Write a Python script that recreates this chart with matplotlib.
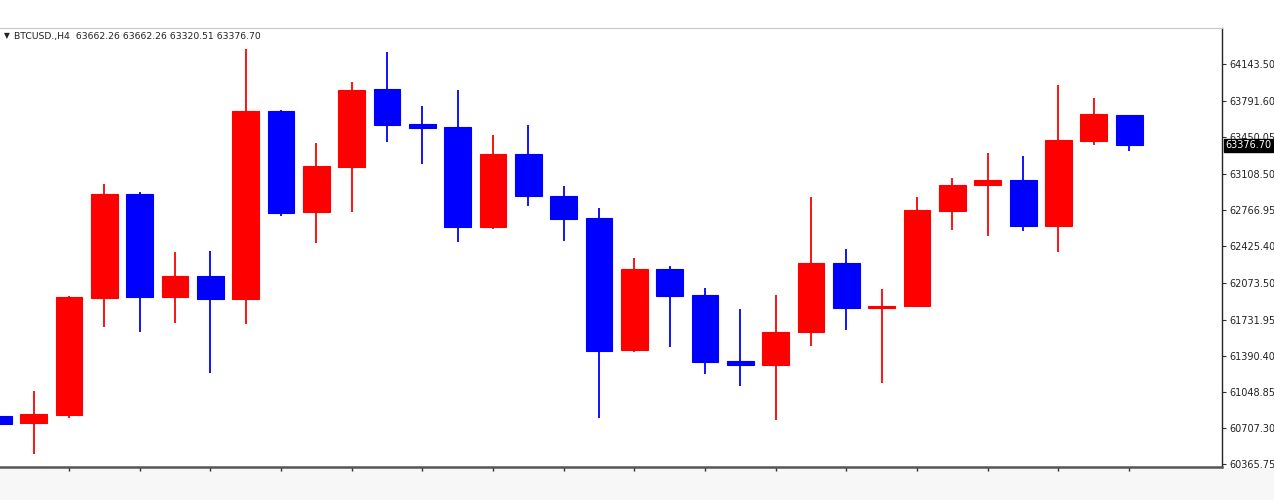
import numpy as np
import matplotlib.pyplot as plt
from matplotlib.transforms import blended_transform_factory
from matplotlib.patches import Rectangle

# OHLC values (H4 candles, BTCUSD)
opens = [60824.5, 60758.5, 60831.0, 61932.4, 62913.9, 61944.7, 62140.0, 61925.9,
         63702.8, 62744.0, 63171.5, 63910.4, 63577.3, 63546.0, 62602.4, 63294.0,
         62897.8, 62690.0, 61444.5, 62211.8, 61960.8, 61340.7, 61300.0, 61611.0,
         62265.5, 61838.0, 61859.8, 62756.3, 63000.0, 63046.0, 62611.8, 63414.0,
         63662.26]
highs = [60830.0, 61057.6, 61950.0, 63013.9, 62938.4, 62369.4, 62378.8, 64282.3,
         63705.0, 63398.0, 63973.7, 64254.0, 63744.3, 63898.2, 63470.7, 63565.0,
         62992.0, 62784.6, 62315.6, 62234.0, 62026.7, 61828.6, 61960.8, 62888.0,
         62400.0, 62017.0, 62891.0, 63070.6, 63306.5, 63275.3, 63942.5, 63819.8,
         63662.26]
lows = [60740.0, 60463.0, 60800.0, 61664.0, 61617.0, 61702.0, 61230.3, 61692.7,
        62709.0, 62454.0, 62746.8, 63404.6, 63202.6, 62466.5, 62584.0, 62806.0,
        62476.0, 60805.6, 61428.0, 61475.6, 61215.0, 61107.6, 60781.0, 61479.0,
        61630.0, 61130.0, 61855.0, 62577.0, 62523.0, 62567.0, 62372.0, 63382.0,
        63320.51]
closes = [60746.2, 60840.5, 61944.7, 62913.9, 61944.7, 62140.0, 61925.9, 63702.8,
          62734.6, 63181.0, 63901.0, 63567.9, 63539.6, 62602.4, 63294.0, 62895.0,
          62683.6, 61435.0, 62211.8, 61954.0, 61328.6, 61300.0, 61617.2, 62265.5,
          61843.7, 61862.5, 62765.7, 63004.5, 63050.6, 62611.8, 63423.4, 63671.7,
          63376.70]

price_ticks = [60365.75, 60707.30, 61048.85, 61390.40, 61731.95, 62073.50,
               62425.40, 62766.95, 63108.50, 63450.05, 63791.60, 64143.50]
header = "BTCUSD.,H4  63662.26 63662.26 63320.51 63376.70"
last_price = "63376.70"

fig = plt.figure(figsize=(12.74, 5), dpi=100)
fig.patch.set_facecolor("white")
# light grey strip under the chart
fig.add_artist(Rectangle((0, 0), 1, 0.064, transform=fig.transFigure,
                         facecolor="#f7f7f7", edgecolor="none", zorder=0))
ax = fig.add_axes([0.0, 0.066, 0.9592, 0.878])
ax.set_facecolor("white")

x = np.arange(len(opens))
o = np.array(opens)
c = np.array(closes)
colors = np.where(c >= o, "#ff0000", "#0000ff")

# wicks first, bodies on top
ax.vlines(x, lows, highs, colors=colors, linewidth=1.3, zorder=2)
ax.bar(x, c - o, bottom=o, width=0.76, color=colors, edgecolor=colors,
       linewidth=0.8, zorder=3)

ax.set_xlim(0.047, 34.63)
ax.set_ylim(60340.4, 64483.2)

ax.set_xticks(np.arange(2, len(opens), 2))
ax.set_xticklabels([])
ax.tick_params(axis="x", direction="out", length=3, width=1, color="#333333")

ax.yaxis.tick_right()
ax.set_yticks(price_ticks)
ax.set_yticklabels(["%.2f" % p for p in price_ticks])
ax.tick_params(axis="y", direction="out", length=3, width=0.8, color="#333333",
               labelsize=7, labelcolor="#222222", pad=2)

ax.spines["left"].set_visible(False)
ax.spines["top"].set_color("#c8c8c8")
ax.spines["top"].set_linewidth(0.8)
ax.spines["right"].set_color("#222222")
ax.spines["right"].set_linewidth(1.0)
ax.spines["bottom"].set_color("#555555")
ax.spines["bottom"].set_linewidth(1.8)

# current price box on the price scale (covers part of the 63450.05 label, as in MT4)
trans = blended_transform_factory(ax.transAxes, ax.transData)
ax.text(1.003, closes[-1], last_price, transform=trans, fontsize=7, color="white",
        va="center", ha="left", zorder=10,
        bbox=dict(boxstyle="square,pad=0.15", facecolor="black", edgecolor="black"))

# header line
fig.text(0.003, 0.928, "\u25bc", fontsize=5.5, color="#222222", va="center")
fig.text(0.011, 0.928, header, fontsize=6.7, color="#222222", va="center")

fig.savefig("out.png", dpi=100, facecolor=fig.get_facecolor())
